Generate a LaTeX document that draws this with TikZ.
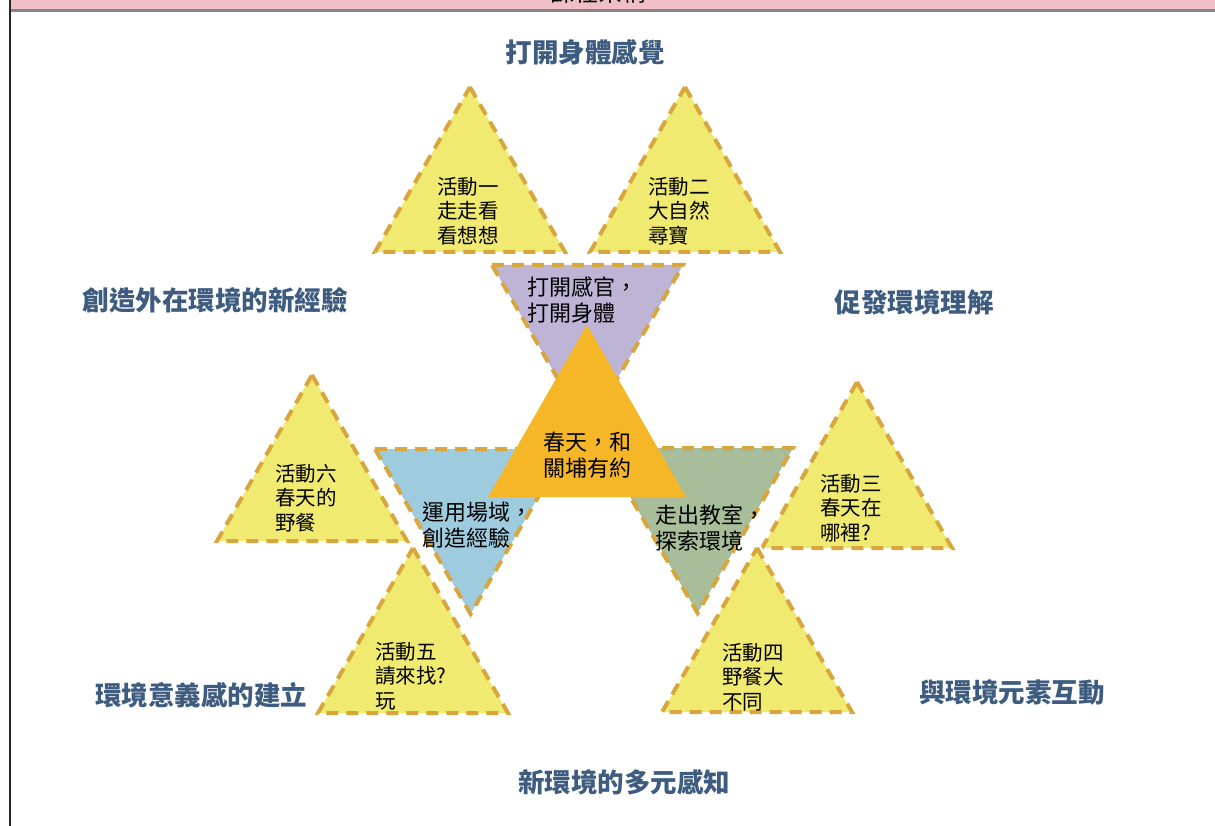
\documentclass[tikz,border=0pt]{standalone}
\usepackage{fontspec}
\setmainfont{Noto Sans CJK TC}
\usepackage{xcolor}
\usepackage{tikz}
\usetikzlibrary{positioning}

\definecolor{actyellow}{RGB}{240,234,112}
\definecolor{dashbrown}{RGB}{215,166,62}
\definecolor{senselilac}{RGB}{189,180,214}
\definecolor{springorange}{RGB}{245,182,40}
\definecolor{fieldblue}{RGB}{158,204,222}
\definecolor{outsage}{RGB}{168,189,154}
\definecolor{themeblue}{RGB}{62,92,128}
\definecolor{headpink}{RGB}{240,190,198}

\begin{document}
\begin{tikzpicture}[x=1pt,y=-1pt,
    halo/.style={preaction={draw=white,line width=9pt,line join=round}},
    acttri/.style={halo,fill=actyellow,draw=dashbrown,line width=4pt,dash pattern=on 12pt off 8pt},
    innertri/.style={halo,draw=dashbrown,line width=4pt,dash pattern=on 12pt off 8pt},
    acttext/.style={inner sep=0pt,align=left,font=\fontsize{20.5}{24.5}\selectfont},
    innertext/.style={inner sep=0pt,align=left,font=\fontsize{22}{26}\selectfont},
    theme/.style={inner sep=0pt,text=themeblue,font=\fontsize{26.5}{30}\selectfont\bfseries}]
                \useasboundingbox (0,0) rectangle (1215,826);
                % Header band
                \fill[white] (0,0) rectangle (1215,826);
                \fill[headpink] (10,0) rectangle (1215,9);
                \begin{scope}
                    \clip (10,0) rectangle (1215,9);
                    \node[inner sep=0pt,font=\fontsize{24}{24}\selectfont] (head) at (598,-8) {課程架構};
                \end{scope}
                \draw[gray!95,line width=3pt] (10,10.5) -- (1215,10.5);
                \draw[black!85,line width=2pt] (10,0) -- (10,826);
                % Activity triangles
                \draw[acttri] (470,87) -- (565,252) -- (375,252) -- cycle;
                \draw[acttri] (685,87) -- (780,252) -- (590,252) -- cycle;
                \draw[acttri] (857,382) -- (952,548) -- (762,548) -- cycle;
                \draw[acttri] (757,548) -- (852,712) -- (662,712) -- cycle;
                \draw[acttri] (413,548) -- (508,713) -- (318,713) -- cycle;
                \draw[acttri] (312,375) -- (407,541) -- (217,541) -- cycle;
                % Inner triangles
                \draw[innertri,fill=senselilac] (492,265) -- (683,265) -- (587.5,430) -- cycle;
                \draw[innertri,fill=fieldblue] (375,449) -- (566,449) -- (470.5,614) -- cycle;
                \draw[innertri,fill=outsage] (602,448) -- (793,448) -- (697.5,613) -- cycle;
                % Centre
                \fill[springorange] (587,325) -- (686,497) -- (488,497) -- cycle;
                % Activity texts
                \node[acttext,align=center] (act1) at (468,211) {活動一\\走走看\\看想想};
                \node[acttext,anchor=west] (act2) at (648,211) {活動二\\大自然\\尋寶};
                \node[acttext,anchor=west] (act3) at (820,508) {活動三\\春天在\\哪裡?};
                \node[acttext,anchor=west] (act4) at (722,677) {活動四\\野餐大\\不同};
                \node[acttext,anchor=west] (act5) at (375,676) {活動五\\請來找?\\玩};
                \node[acttext,anchor=west] (act6) at (275,498) {活動六\\春天的\\野餐};
                % Inner texts
                \node[innertext,anchor=west] (sense) at (527,300) {打開感官，\\打開身體};
                \node[innertext,anchor=west] (field) at (422,525) {運用場域，\\創造經驗};
                \node[innertext,anchor=west] (out) at (655,528) {走出教室，\\探索環境};
                \node[innertext,align=center] (spring) at (587,455) {春天，和\\關埔有約};
                % Themes
                \node[theme] (thtop) at (585,52) {打開身體感覺};
                \node[theme] (thleft) at (215,300) {創造外在環境的新經驗};
                \node[theme] (thright) at (914,302) {促發環境理解};
                \node[theme] (thbl) at (201,695) {環境意義感的建立};
                \node[theme] (thbr) at (1012,692) {與環境元素互動};
                \node[theme] (thbot) at (624,782) {新環境的多元感知};
            \end{tikzpicture}
\end{document}
